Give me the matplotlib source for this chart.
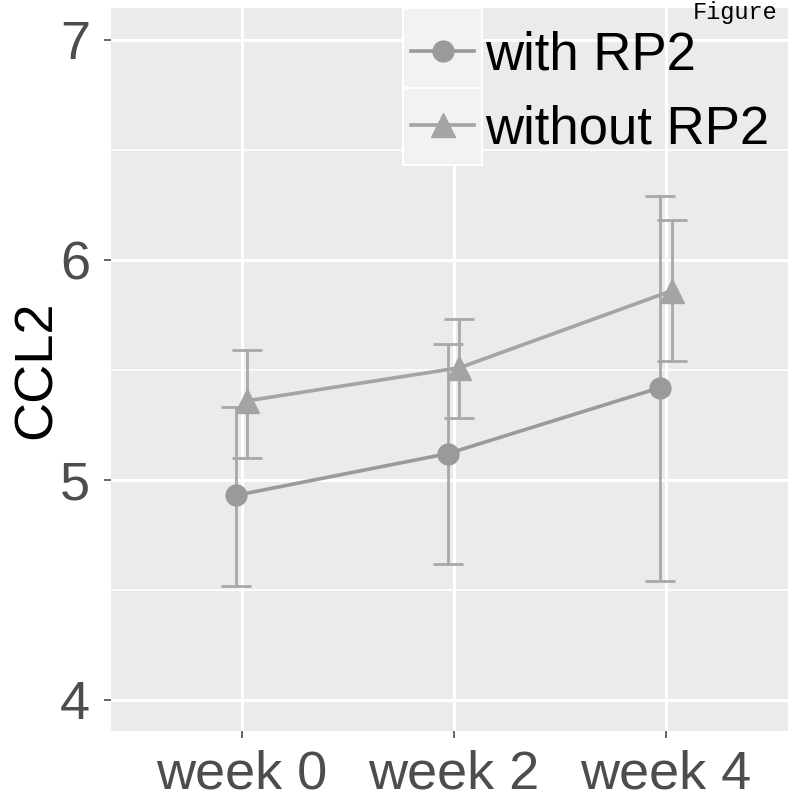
import numpy as np
import matplotlib.pyplot as plt
from matplotlib.patches import Rectangle

plt.rcParams['font.family'] = ['Liberation Sans', 'DejaVu Sans']

weeks = ["week 0", "week 2", "week 4"]

with_mean = [4.93, 5.12, 5.42]
with_low = [4.52, 4.62, 4.54]
with_high = [5.33, 5.62, 6.29]

without_mean = [5.36, 5.51, 5.86]
without_low = [5.10, 5.28, 5.54]
without_high = [5.59, 5.73, 6.18]

fig = plt.figure(figsize=(7.93, 8.02), dpi=100)
ax = fig.add_axes([0.140, 0.0885, 0.8537, 0.9015])
ax.set_facecolor('#ebebeb')

xx = np.arange(len(weeks))
dodge = 0.027

# grid like ggplot
for v in [4.5, 5.5, 6.5]:
    ax.axhline(v, color='white', lw=1.2, zorder=0)
for v in [4, 5, 6, 7]:
    ax.axhline(v, color='white', lw=2.2, zorder=0)
for v in xx:
    ax.axvline(v, color='white', lw=2.2, zorder=0)


def draw(x, mean, low, high, marker, ms, col):
    mean = np.array(mean)
    yerr = [mean - np.array(low), np.array(high) - mean]
    ax.errorbar(x, mean, yerr=yerr, fmt='none', ecolor='#a8a8a8',
                elinewidth=2, capsize=11, capthick=2, zorder=2)
    h, = ax.plot(x, mean, color=col, lw=2.6, marker=marker, ms=ms,
                 zorder=3)
    return h


h1 = draw(xx - dodge, with_mean, with_low, with_high, 'o', 15, '#9a9a9a')
h2 = draw(xx + dodge, without_mean, without_low, without_high, '^', 17, '#a4a4a4')

ax.set_xlim(-0.615, 2.575)
ax.set_ylim(3.859, 7.145)
ax.set_yticks([4, 5, 6, 7])
ax.set_xticks(xx)
ax.set_xticklabels(weeks)
ax.tick_params(axis='both', labelsize=39, colors='#4d4d4d', length=5,
               width=1.2, pad=10)
ax.tick_params(axis='x', pad=8)
for s in ax.spines.values():
    s.set_visible(False)
ax.set_ylabel('CCL2', fontsize=39, labelpad=-1)

# legend key backgrounds
for y0, hgt in [(0.890, 0.1), (0.794, 0.096)]:
    fig.patches.append(Rectangle((0.508, y0), 0.0996, hgt, transform=fig.transFigure,
                                 facecolor='#f2f2f2', edgecolor='white', lw=1.5, zorder=1))

leg = fig.legend([h1, h2], ['with RP2', 'without RP2'], loc='upper left',
                 bbox_to_anchor=(0.505, 0.975), frameon=False, fontsize=38,
                 handlelength=1.2, handletextpad=0.2, labelspacing=0.45,
                 borderpad=0.2, borderaxespad=0)

fig.text(0.981, 0.999, 'Figure', family='Liberation Mono', fontsize=17,
         ha='right', va='top')

plt.savefig('out.png', dpi=100)
